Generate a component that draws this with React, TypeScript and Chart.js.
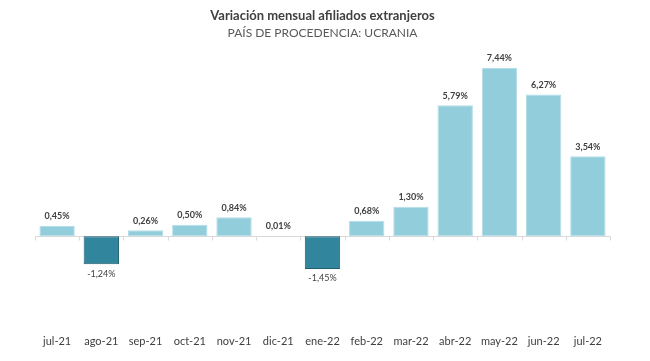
import React, { useEffect, useRef } from "react";
import { Chart, registerables } from "chart.js";

Chart.register(...registerables);

const categories = ["jul-21", "ago-21", "sep-21", "oct-21", "nov-21", "dic-21", "ene-22", "feb-22", "mar-22", "abr-22", "may-22", "jun-22", "jul-22"];
const values = [0.45, -1.24, 0.26, 0.5, 0.84, 0.01, -1.45, 0.68, 1.3, 5.79, 7.44, 6.27, 3.54];
const titleText = "Variación mensual afiliados extranjeros";
const subtitleText = "PAÍS DE PROCEDENCIA: UCRANIA";

const POS_FILL = "#92CDDC";
const POS_BORDER = "#B4DDE8";
const NEG_FILL = "#31859C";
const NEG_BORDER = "#215E6E";
const FONT = "Lato, 'Open Sans', sans-serif";

const fmt = (v: number) => v.toFixed(2).replace(".", ",") + "%";

const zeroAxisPlugin = {
  id: "zeroAxis",
  beforeDatasetsDraw(chart: any) {
    const { ctx, chartArea, scales } = chart;
    const y0 = Math.round(scales.y.getPixelForValue(0)) + 0.5;
    const xs = scales.x;
    ctx.save();
    ctx.strokeStyle = "#D9D9D9";
    ctx.lineWidth = 1;
    ctx.beginPath();
    ctx.moveTo(chartArea.left, y0);
    ctx.lineTo(chartArea.right, y0);
    const n = categories.length;
    for (let i = 0; i <= n; i++) {
      const x = Math.round(xs.getPixelForValue(i - 0.5)) + 0.5;
      ctx.moveTo(x, y0);
      ctx.lineTo(x, y0 + 4);
    }
    ctx.stroke();
    ctx.restore();
  },
};

const labelPlugin = {
  id: "barLabels",
  afterDatasetsDraw(chart: any) {
    const { ctx } = chart;
    const meta = chart.getDatasetMeta(0);
    ctx.save();
    ctx.textAlign = "center";
    meta.data.forEach((bar: any, i: number) => {
      const v = values[i];
      if (v >= 0) {
        ctx.font = `bold 9px ${FONT}`;
        ctx.fillStyle = "#404040";
        ctx.textBaseline = "bottom";
        ctx.fillText(fmt(v), bar.x, bar.y - 5);
      } else {
        ctx.font = `9px ${FONT}`;
        ctx.fillStyle = "#404040";
        ctx.textBaseline = "top";
        ctx.fillText(fmt(v), bar.x, bar.y + 5);
      }
    });
    ctx.restore();
  },
};

export default function App() {
  const ref = useRef<HTMLCanvasElement>(null);
  useEffect(() => {
    document.body.style.margin = "0";
    const chart = new Chart(ref.current!, {
      type: "bar",
      data: {
        labels: categories,
        datasets: [
          {
            data: values,
            backgroundColor: values.map((v) => (v >= 0 ? POS_FILL : NEG_FILL)),
            borderColor: values.map((v) => (v >= 0 ? POS_BORDER : NEG_BORDER)),
            borderWidth: 1,
            borderSkipped: false,
            barPercentage: 0.8,
            categoryPercentage: 1,
          },
        ],
      },
      options: {
        animation: false,
        responsive: false,
        maintainAspectRatio: false,
        layout: { padding: { left: 35, right: 40, top: 0, bottom: 0 } },
        plugins: {
          legend: { display: false },
          tooltip: { enabled: false },
          title: {
            display: true,
            text: titleText,
            color: "#404040",
            font: { family: FONT, size: 13, weight: "bold" },
            padding: { top: 8, bottom: 2 },
          },
          subtitle: {
            display: true,
            text: subtitleText,
            color: "#595959",
            font: { family: FONT, size: 12, weight: "normal" },
            padding: { top: 0, bottom: 4 },
          },
        },
        scales: {
          x: {
            grid: { display: false, drawTicks: false },
            border: { display: false },
            afterFit: (scale: any) => {
              scale.height = 57;
            },
            ticks: {
              color: "#404040",
              font: { family: FONT, size: 11 },
              padding: 31,
              maxRotation: 0,
              autoSkip: false,
            },
          },
          y: {
            display: false,
            min: -3,
            max: 8.5,
          },
        },
      },
      plugins: [zeroAxisPlugin, labelPlugin],
    });
    return () => chart.destroy();
  }, []);
  return (
    <div style={{ width: 650, height: 361, background: "#fff" }}>
      <canvas ref={ref} width={650} height={361} style={{ display: "block" }} />
    </div>
  );
}
